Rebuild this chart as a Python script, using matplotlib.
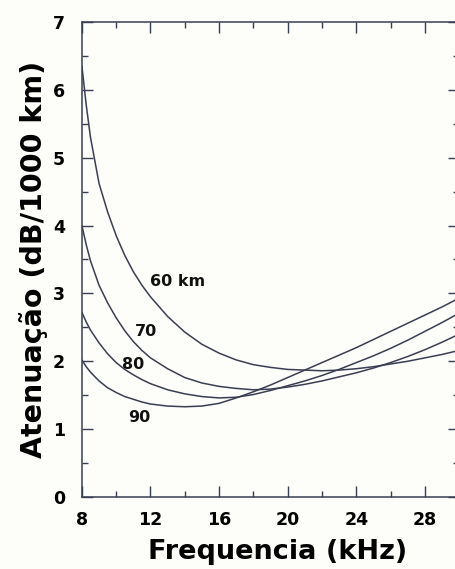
import matplotlib
matplotlib.use("Agg")
import matplotlib.pyplot as plt
from matplotlib.ticker import MultipleLocator

# frequency grid (kHz) and attenuation (dB/1000 km) for each reflection height
freq = [8.0, 8.25, 8.5, 9.0, 9.5, 10.0, 10.5, 11.0, 11.5, 12.0, 13, 14, 15, 16,
        17, 18, 19, 20, 21, 22, 23, 24, 25, 26, 27, 28, 29, 30]

att_60 = [6.35, 5.78, 5.30, 4.62, 4.20, 3.85, 3.56, 3.32, 3.12, 2.95, 2.66, 2.43,
          2.25, 2.12, 2.02, 1.95, 1.91, 1.88, 1.87, 1.86, 1.87, 1.89, 1.92, 1.96,
          2.00, 2.05, 2.10, 2.16]
att_70 = [4.00, 3.72, 3.48, 3.12, 2.86, 2.64, 2.45, 2.29, 2.16, 2.05, 1.89, 1.76,
          1.68, 1.63, 1.60, 1.58, 1.59, 1.62, 1.66, 1.71, 1.77, 1.83, 1.90, 1.98,
          2.07, 2.17, 2.28, 2.40]
att_80 = [2.72, 2.58, 2.46, 2.27, 2.11, 1.98, 1.88, 1.80, 1.73, 1.67, 1.58, 1.52,
          1.48, 1.46, 1.47, 1.51, 1.57, 1.64, 1.71, 1.79, 1.88, 1.98, 2.08, 2.19,
          2.31, 2.44, 2.57, 2.71]
att_90 = [2.02, 1.92, 1.84, 1.71, 1.61, 1.54, 1.48, 1.44, 1.40, 1.37, 1.34, 1.33,
          1.34, 1.38, 1.46, 1.55, 1.65, 1.76, 1.87, 1.98, 2.09, 2.20, 2.32, 2.44,
          2.56, 2.68, 2.80, 2.93]

curves = [att_60, att_70, att_80, att_90]
labels = ["60 km", "70", "80", "90"]
label_pos = [(13.6, 3.17), (11.75, 2.44), (11.0, 1.95), (11.35, 1.17)]

ink = "#3a3e52"

fig = plt.figure(figsize=(4.55, 5.69), dpi=100, facecolor="#fdfdf9")
ax = fig.add_axes([0.180, 0.1265, 0.829, 0.835])
ax.set_facecolor("#fdfdf9")

for y in curves:
    ax.plot(freq, y, color=ink, lw=1.1, solid_capstyle="round")

for txt, (x, y) in zip(labels, label_pos):
    ax.text(x, y, txt, fontsize=11.5, fontweight="bold", ha="center", va="center",
            color="#111111")

ax.set_xlim(8, 30)
ax.set_ylim(0, 7)
ax.set_xticks([8, 12, 16, 20, 24, 28])
ax.set_yticks(range(0, 8))
ax.xaxis.set_minor_locator(MultipleLocator(2))
ax.yaxis.set_minor_locator(MultipleLocator(0.5))

ax.tick_params(which="both", direction="in", top=True, right=True, color=ink, width=1.0)
ax.tick_params(which="major", length=8, labelsize=12.5)
ax.tick_params(which="minor", length=4)
ax.tick_params(axis="y", pad=12)
ax.tick_params(axis="x", pad=10)
for lab in ax.get_xticklabels() + ax.get_yticklabels():
    lab.set_fontweight("bold")

for sp in ax.spines.values():
    sp.set_color(ink)
    sp.set_linewidth(1.1)

ax.set_xlabel("Frequencia (kHz)", fontsize=19.5, fontweight="bold")
ax.xaxis.set_label_coords(0.52, -0.088)
ax.set_ylabel("Atenuação (dB/1000 km)", fontsize=20.5, fontweight="bold", labelpad=4)

fig.savefig("out.png", dpi=100, facecolor=fig.get_facecolor())
